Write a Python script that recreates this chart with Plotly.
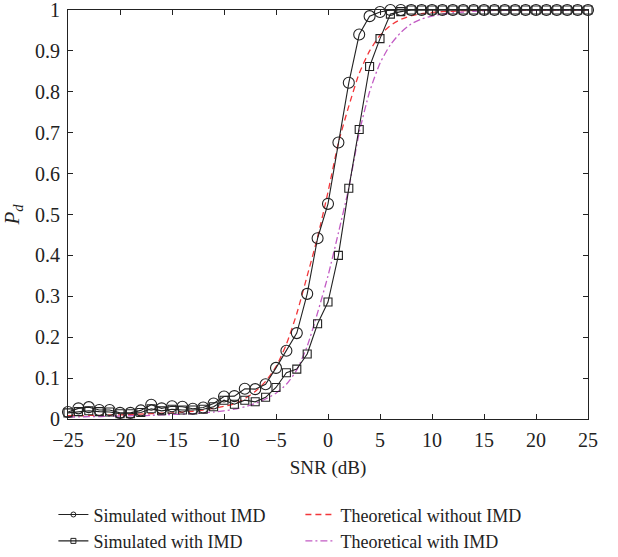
import plotly.graph_objects as go

snr = list(range(-25, 26))

sim_without = [0.017, 0.026, 0.029, 0.022, 0.022, 0.015, 0.015, 0.021, 0.035, 0.026,
               0.031, 0.030, 0.025, 0.028, 0.038, 0.055, 0.056, 0.074, 0.073, 0.085,
               0.125, 0.167, 0.210, 0.306, 0.442, 0.526, 0.676, 0.822, 0.940, 0.985,
               0.995, 1.0, 1.0, 1.0, 1.0, 1.0, 1.0, 1.0, 1.0, 1.0,
               1.0, 1.0, 1.0, 1.0, 1.0, 1.0, 1.0, 1.0, 1.0, 1.0, 1.0]

sim_with = [0.015, 0.018, 0.020, 0.018, 0.017, 0.013, 0.013, 0.016, 0.025, 0.020,
            0.024, 0.022, 0.022, 0.024, 0.030, 0.046, 0.036, 0.046, 0.042, 0.053,
            0.077, 0.113, 0.122, 0.159, 0.233, 0.286, 0.400, 0.564, 0.708, 0.862,
            0.930, 0.990, 0.996, 1.0, 1.0, 1.0, 1.0, 1.0, 1.0, 1.0,
            1.0, 1.0, 1.0, 1.0, 1.0, 1.0, 1.0, 1.0, 1.0, 1.0, 1.0]

theo_without = [0.008, 0.008, 0.009, 0.009, 0.010, 0.010, 0.011, 0.012, 0.013, 0.014,
                0.015, 0.017, 0.019, 0.022, 0.026, 0.031, 0.037, 0.050, 0.067, 0.092,
                0.128, 0.183, 0.258, 0.350, 0.445, 0.555, 0.675, 0.765, 0.845, 0.900,
                0.938, 0.962, 0.977, 0.986, 0.991, 0.994, 0.996, 0.997, 0.998, 0.999,
                0.999, 1.0, 1.0, 1.0, 1.0, 1.0, 1.0, 1.0, 1.0, 1.0, 1.0]

theo_with = [0.005, 0.005, 0.006, 0.006, 0.007, 0.007, 0.008, 0.008, 0.009, 0.010,
             0.011, 0.012, 0.013, 0.015, 0.017, 0.020, 0.024, 0.030, 0.038, 0.049,
             0.063, 0.085, 0.120, 0.178, 0.260, 0.350, 0.455, 0.565, 0.700, 0.800,
             0.870, 0.915, 0.945, 0.966, 0.978, 0.985, 0.990, 0.993, 0.995, 0.997,
             0.998, 0.999, 0.999, 1.0, 1.0, 1.0, 1.0, 1.0, 1.0, 1.0, 1.0]

x_ticks = [-25, -20, -15, -10, -5, 0, 5, 10, 15, 20, 25]
x_ticktext = ["\u221225", "\u221220", "\u221215", "\u221210", "\u22125", "0", "5", "10", "15", "20", "25"]
y_ticks = [0, 0.1, 0.2, 0.3, 0.4, 0.5, 0.6, 0.7, 0.8, 0.9, 1]
y_ticktext = ["0", "0.1", "0.2", "0.3", "0.4", "0.5", "0.6", "0.7", "0.8", "0.9", "1"]

FONT = "Liberation Serif"
BLACK = "#222222"
RED = "#f2363a"
MAGENTA = "#c25bc4"
RED_DASH = "6px,4px"
MAG_DASH = "7px,3px,2px,3px"

fig = go.Figure()

# data traces (legend entries drawn by legend-only proxies below)
fig.add_trace(go.Scatter(
    x=snr, y=theo_without, mode="lines", showlegend=False,
    line=dict(color=RED, width=1.3, dash=RED_DASH, shape="spline", smoothing=0.6),
    cliponaxis=False))
fig.add_trace(go.Scatter(
    x=snr, y=theo_with, mode="lines", showlegend=False,
    line=dict(color=MAGENTA, width=1.3, dash=MAG_DASH, shape="spline", smoothing=0.6),
    cliponaxis=False))
fig.add_trace(go.Scatter(
    x=snr, y=sim_with, mode="lines+markers", showlegend=False,
    line=dict(color=BLACK, width=1.1),
    marker=dict(symbol="square-open", size=8, color=BLACK, line=dict(width=1.1, color=BLACK)),
    cliponaxis=False))
fig.add_trace(go.Scatter(
    x=snr, y=sim_without, mode="lines+markers", showlegend=False,
    line=dict(color=BLACK, width=1.1),
    marker=dict(symbol="circle-open", size=11, color=BLACK, line=dict(width=1.1, color=BLACK)),
    cliponaxis=False))

# legend proxies (small markers as in the reference legend)
fig.add_trace(go.Scatter(
    x=[None], y=[None], mode="lines+markers", name="Simulated without IMD",
    line=dict(color=BLACK, width=1.1),
    marker=dict(symbol="circle-open", size=5, color=BLACK, line=dict(width=1, color=BLACK))))
fig.add_trace(go.Scatter(
    x=[None], y=[None], mode="lines", name="Theoretical without IMD",
    line=dict(color=RED, width=1.3, dash=RED_DASH)))
fig.add_trace(go.Scatter(
    x=[None], y=[None], mode="lines+markers", name="Simulated with IMD",
    line=dict(color=BLACK, width=1.1),
    marker=dict(symbol="square-open", size=5, color=BLACK, line=dict(width=1, color=BLACK))))
fig.add_trace(go.Scatter(
    x=[None], y=[None], mode="lines", name="Theoretical with IMD",
    line=dict(color=MAGENTA, width=1.3, dash=MAG_DASH)))

axis_common = dict(
    showline=True, linecolor=BLACK, linewidth=1.2, mirror="ticks",
    ticks="inside", ticklen=5, tickcolor=BLACK, tickwidth=1,
    showgrid=False, zeroline=False, ticklabeloverflow="allow", automargin=False,
    tickfont=dict(family=FONT, size=20, color=BLACK),
)

fig.update_layout(
    width=618, height=557,
    margin=dict(l=68, r=30, t=10, b=138, autoexpand=False),
    paper_bgcolor="white", plot_bgcolor="white",
    font=dict(family=FONT, color=BLACK, size=18),
    xaxis=dict(range=[-25, 25], tickvals=x_ticks, ticktext=x_ticktext, ticklabelstandoff=3,
               title=dict(text="SNR (dB)", font=dict(family=FONT, size=19, color=BLACK), standoff=10),
               **axis_common),
    yaxis=dict(range=[0, 1], tickvals=y_ticks, ticktext=y_ticktext, ticklabelstandoff=3,
               title=dict(text="<i>P</i><sub><i>d</i></sub>", font=dict(family=FONT, size=21, color=BLACK), standoff=9),
               **axis_common),
    legend=dict(orientation="h", xref="container", yref="container",
                x=0.0864, xanchor="left", y=0.109, yanchor="top",
                entrywidth=202, entrywidthmode="pixels", traceorder="normal",
                font=dict(family=FONT, size=18, color=BLACK), bgcolor="rgba(0,0,0,0)",
                itemwidth=30),
    showlegend=True,
)

fig.write_html("out.html")
